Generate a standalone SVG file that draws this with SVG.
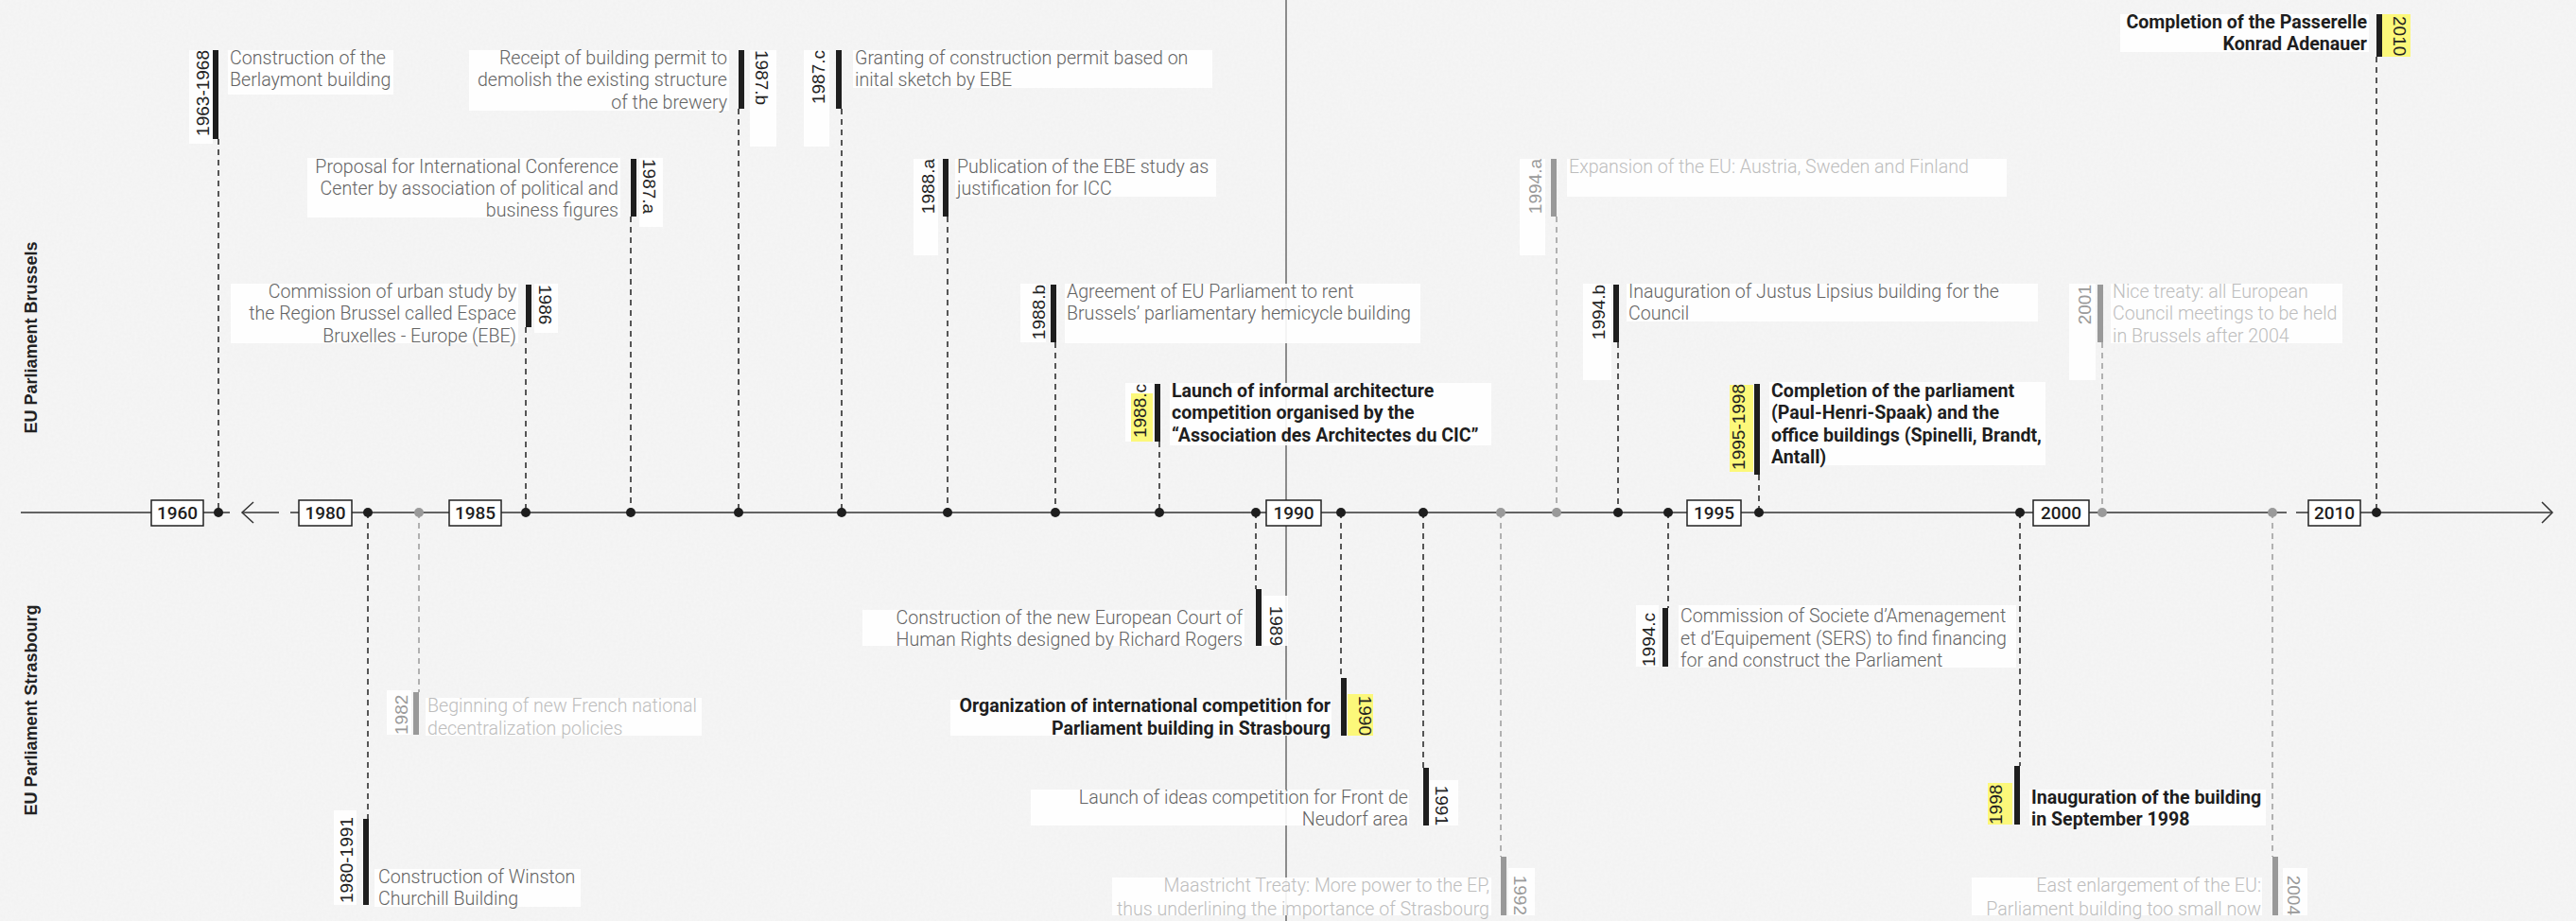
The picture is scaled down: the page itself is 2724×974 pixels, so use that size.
<svg xmlns="http://www.w3.org/2000/svg" width="2724" height="974" viewBox="0 0 2724 974">
<style>
.ev{font-family:Roboto,"Liberation Sans",sans-serif;font-weight:300;font-size:19.6px;fill:#636363}
.evb{font-family:Roboto,"Liberation Sans",sans-serif;font-weight:700;font-size:19.6px;fill:#1e1e1e}
.evf{font-family:Roboto,"Liberation Sans",sans-serif;font-weight:300;font-size:19.6px;fill:#bdbdbd}
.yl{font-family:"Liberation Sans",Arial,sans-serif;font-size:19px;fill:#222}
.ylf{font-family:"Liberation Sans",Arial,sans-serif;font-size:19px;fill:#9a9a9a}
.bx{font-family:Roboto,"Liberation Sans",sans-serif;font-weight:500;font-size:19px;fill:#1e1e1e;text-anchor:middle}
.side{font-family:"Liberation Sans",Arial,sans-serif;font-weight:bold;font-size:18px;fill:#222;text-anchor:middle}
.bg{fill:#fff;opacity:0.9}
.hl{fill:#fcf87a}
.bar{fill:#1e1e1e}
.barf{fill:#999}
.dash{stroke:#222;stroke-width:1.5;stroke-dasharray:6 5;fill:none}
.dashf{stroke:#9a9a9a;stroke-width:1.5;stroke-dasharray:6 5;fill:none}
.axis{stroke:#333;stroke-width:1.5;fill:none}
.ybox{fill:#fff;stroke:#222;stroke-width:1.5}
.dot{fill:#1e1e1e}
.dotf{fill:#9a9a9a}
</style>
<defs>
<filter id="noise" x="0" y="0" width="100%" height="100%">
<feTurbulence type="fractalNoise" baseFrequency="0.35" numOctaves="2" seed="4"/>
<feColorMatrix type="matrix" values="0 0 0 0 0.6  0 0 0 0 0.6  0 0 0 0 0.6  0 0 0 0.11 0"/>
</filter>
</defs>
<rect width="2724" height="974" fill="#f6f6f6"/>
<rect width="2724" height="974" filter="url(#noise)"/>

<g id="side-labels">
<text class="side" transform="translate(39,357) rotate(-90)">EU Parliament Brussels</text>
<text class="side" transform="translate(39,751) rotate(-90)">EU Parliament Strasbourg</text>
</g>

<g id="connectors">
<line x1="1360" y1="0" x2="1360" y2="974" stroke="#6a6a6a" stroke-width="1.5"/>
<line class="axis" x1="22" y1="542" x2="160" y2="542"/>
<line class="axis" x1="215" y1="542" x2="243" y2="542"/>
<line class="axis" x1="256" y1="542" x2="295" y2="542"/>
<polyline class="axis" points="268,531 256,542 268,553"/>
<line class="axis" x1="307" y1="542" x2="316" y2="542"/>
<line class="axis" x1="372" y1="542" x2="475" y2="542"/>
<line class="axis" x1="530" y1="542" x2="1339" y2="542"/>
<line class="axis" x1="1397" y1="542" x2="1784" y2="542"/>
<line class="axis" x1="1841" y1="542" x2="2150" y2="542"/>
<line class="axis" x1="2209" y1="542" x2="2418" y2="542"/>
<line class="axis" x1="2428" y1="542" x2="2441" y2="542"/>
<line class="axis" x1="2496" y1="542" x2="2699" y2="542"/>
<polyline class="axis" points="2688,531 2699,542 2688,553"/>
<line class="dash" x1="231" y1="147" x2="231" y2="542"/>
<line class="dash" x1="556" y1="346" x2="556" y2="542"/>
<line class="dash" x1="667" y1="229" x2="667" y2="542"/>
<line class="dash" x1="781" y1="115" x2="781" y2="542"/>
<line class="dash" x1="890" y1="115" x2="890" y2="542"/>
<line class="dash" x1="1002" y1="229" x2="1002" y2="542"/>
<line class="dash" x1="1116" y1="362" x2="1116" y2="542"/>
<line class="dash" x1="1226" y1="467" x2="1226" y2="542"/>
<line class="dashf" x1="1646" y1="229" x2="1646" y2="542"/>
<line class="dash" x1="1711" y1="362" x2="1711" y2="542"/>
<line class="dash" x1="1860" y1="502" x2="1860" y2="542"/>
<line class="dashf" x1="2223" y1="362" x2="2223" y2="542"/>
<line class="dash" x1="2513" y1="60" x2="2513" y2="542"/>
<line class="dash" x1="389" y1="542" x2="389" y2="866"/>
<line class="dashf" x1="443" y1="542" x2="443" y2="732"/>
<line class="dash" x1="1328" y1="542" x2="1328" y2="623"/>
<line class="dash" x1="1418" y1="542" x2="1418" y2="717"/>
<line class="dash" x1="1505" y1="542" x2="1505" y2="812"/>
<line class="dashf" x1="1587" y1="542" x2="1587" y2="906"/>
<line class="dash" x1="1764" y1="542" x2="1764" y2="643"/>
<line class="dash" x1="2136" y1="542" x2="2136" y2="810"/>
<line class="dashf" x1="2403" y1="542" x2="2403" y2="906"/>
<circle class="dot" cx="231" cy="542" r="5"/>
<circle class="dot" cx="389" cy="542" r="5"/>
<circle class="dotf" cx="443" cy="542" r="5"/>
<circle class="dot" cx="556" cy="542" r="5"/>
<circle class="dot" cx="667" cy="542" r="5"/>
<circle class="dot" cx="781" cy="542" r="5"/>
<circle class="dot" cx="890" cy="542" r="5"/>
<circle class="dot" cx="1002" cy="542" r="5"/>
<circle class="dot" cx="1116" cy="542" r="5"/>
<circle class="dot" cx="1226" cy="542" r="5"/>
<circle class="dot" cx="1328" cy="542" r="5"/>
<circle class="dot" cx="1418" cy="542" r="5"/>
<circle class="dot" cx="1505" cy="542" r="5"/>
<circle class="dotf" cx="1587" cy="542" r="5"/>
<circle class="dotf" cx="1646" cy="542" r="5"/>
<circle class="dot" cx="1711" cy="542" r="5"/>
<circle class="dot" cx="1764" cy="542" r="5"/>
<circle class="dot" cx="1860" cy="542" r="5"/>
<circle class="dot" cx="2136" cy="542" r="5"/>
<circle class="dotf" cx="2223" cy="542" r="5"/>
<circle class="dotf" cx="2403" cy="542" r="5"/>
<circle class="dot" cx="2513" cy="542" r="5"/>
</g>

<g id="year-boxes">
<g id="y1960"><rect class="ybox" x="160" y="529" width="55" height="27"/><text class="bx" x="187.5" y="549">1960</text></g>
<g id="y1980"><rect class="ybox" x="316" y="529" width="56" height="27"/><text class="bx" x="344" y="549">1980</text></g>
<g id="y1985"><rect class="ybox" x="475" y="529" width="55" height="27"/><text class="bx" x="502.5" y="549">1985</text></g>
<g id="y1990"><rect class="ybox" x="1339" y="529" width="58" height="27"/><text class="bx" x="1368" y="549">1990</text></g>
<g id="y1995"><rect class="ybox" x="1784" y="529" width="57" height="27"/><text class="bx" x="1812.5" y="549">1995</text></g>
<g id="y2000"><rect class="ybox" x="2150" y="529" width="59" height="27"/><text class="bx" x="2179.5" y="549">2000</text></g>
<g id="y2010"><rect class="ybox" x="2441" y="529" width="55" height="27"/><text class="bx" x="2468.5" y="549">2010</text></g>
</g>

<g id="ev-1963-1968">
<rect class="bg" x="200" y="53" width="25" height="99"/>
<rect class="bg" x="241" y="53" width="175" height="47"/>
<rect class="bar" x="225" y="53" width="6" height="94"/>
<text class="yl" transform="translate(221,53) rotate(-90)" text-anchor="end">1963-1968</text>
<text class="ev"><tspan x="243" y="68">Construction of the</tspan><tspan x="243" y="91">Berlaymont building</tspan></text>
</g>
<g id="ev-1987b">
<rect class="bg" x="496" y="53" width="275" height="64"/>
<rect class="bg" x="793" y="53" width="28" height="102"/>
<rect class="bar" x="781" y="53" width="6" height="62"/>
<text class="yl" transform="translate(799,53) rotate(90)">1987.b</text>
<text class="ev" text-anchor="end"><tspan x="769" y="68">Receipt of building permit to</tspan><tspan x="769" y="91">demolish the existing structure</tspan><tspan x="769" y="115">of the brewery</tspan></text>
</g>
<g id="ev-1987c">
<rect class="bg" x="850" y="53" width="27" height="102"/>
<rect class="bg" x="902" y="53" width="380" height="40"/>
<rect class="bar" x="884" y="53" width="6" height="62"/>
<text class="yl" transform="translate(872,53) rotate(-90)" text-anchor="end">1987.c</text>
<text class="ev"><tspan x="904" y="68">Granting of construction permit based on</tspan><tspan x="904" y="91">inital sketch by EBE</tspan></text>
</g>
<g id="ev-1987a">
<rect class="bg" x="325" y="167" width="331" height="63"/>
<rect class="bg" x="676" y="167" width="25" height="73"/>
<rect class="bar" x="667" y="168" width="6" height="61"/>
<text class="yl" transform="translate(680,168) rotate(90)">1987.a</text>
<text class="ev" text-anchor="end"><tspan x="654" y="183">Proposal for International Conference</tspan><tspan x="654" y="206">Center by association of political and</tspan><tspan x="654" y="229">business figures</tspan></text>
</g>
<g id="ev-1986">
<rect class="bg" x="244" y="300" width="304" height="63"/>
<rect class="bg" x="565" y="300" width="25" height="52"/>
<rect class="bar" x="556" y="301" width="6" height="45"/>
<text class="yl" transform="translate(570,301) rotate(90)">1986</text>
<text class="ev" text-anchor="end"><tspan x="546" y="315">Commission of urban study by</tspan><tspan x="546" y="338">the Region Brussel called Espace</tspan><tspan x="546" y="362">Bruxelles - Europe (EBE)</tspan></text>
</g>
<g id="ev-1988a">
<rect class="bg" x="966" y="168" width="26" height="102"/>
<rect class="bg" x="1010" y="168" width="276" height="40"/>
<rect class="bar" x="997" y="168" width="6" height="61"/>
<text class="yl" transform="translate(988,168) rotate(-90)" text-anchor="end">1988.a</text>
<text class="ev"><tspan x="1012" y="183">Publication of the EBE study as</tspan><tspan x="1012" y="206">justification for ICC</tspan></text>
</g>
<g id="ev-1988b">
<rect class="bg" x="1079" y="300" width="27" height="62"/>
<rect class="bg" x="1126" y="300" width="376" height="63"/>
<rect class="bar" x="1111" y="301" width="6" height="61"/>
<text class="yl" transform="translate(1105,301) rotate(-90)" text-anchor="end">1988.b</text>
<text class="ev"><tspan x="1128" y="315">Agreement of EU Parliament to rent</tspan><tspan x="1128" y="338">Brussels’ parliamentary hemicycle building</tspan></text>
</g>
<g id="ev-1988c">
<rect class="bg" x="1190" y="405" width="30" height="62"/>
<rect class="hl" x="1196" y="416" width="23" height="51"/>
<rect class="bg" x="1237" y="405" width="340" height="66"/>
<rect class="bar" x="1221" y="406" width="6" height="61"/>
<text class="yl" transform="translate(1212,406) rotate(-90)" text-anchor="end">1988.c</text>
<text class="evb"><tspan x="1239" y="420">Launch of informal architecture</tspan><tspan x="1239" y="443">competition organised by the</tspan><tspan x="1239" y="467">“Association des Architectes du CIC”</tspan></text>
</g>
<g id="ev-1994a">
<rect class="bg" x="1607" y="168" width="27" height="102"/>
<rect class="bg" x="1657" y="168" width="465" height="40"/>
<rect class="barf" x="1640" y="168" width="6" height="61"/>
<text class="ylf" transform="translate(1630,168) rotate(-90)" text-anchor="end">1994.a</text>
<text class="evf"><tspan x="1659" y="183">Expansion of the EU: Austria, Sweden and Finland</tspan></text>
</g>
<g id="ev-1994b">
<rect class="bg" x="1674" y="300" width="30" height="102"/>
<rect class="bg" x="1720" y="300" width="435" height="40"/>
<rect class="bar" x="1706" y="301" width="6" height="61"/>
<text class="yl" transform="translate(1697,301) rotate(-90)" text-anchor="end">1994.b</text>
<text class="ev"><tspan x="1722" y="315">Inauguration of Justus Lipsius building for the</tspan><tspan x="1722" y="338">Council</tspan></text>
</g>
<g id="ev-1995-1998">
<rect class="hl" x="1829" y="407" width="25" height="92"/>
<rect class="bg" x="1871" y="404" width="292" height="88"/>
<rect class="bar" x="1855" y="406" width="6" height="96"/>
<text class="yl" transform="translate(1845,406) rotate(-90)" text-anchor="end">1995-1998</text>
<text class="evb"><tspan x="1873" y="420">Completion of the parliament</tspan><tspan x="1873" y="443">(Paul-Henri-Spaak) and the</tspan><tspan x="1873" y="467">office buildings (Spinelli, Brandt,</tspan><tspan x="1873" y="490">Antall)</tspan></text>
</g>
<g id="ev-2001">
<rect class="bg" x="2188" y="300" width="28" height="102"/>
<rect class="bg" x="2232" y="300" width="245" height="63"/>
<rect class="barf" x="2218" y="301" width="6" height="61"/>
<text class="ylf" transform="translate(2211,301) rotate(-90)" text-anchor="end">2001</text>
<text class="evf"><tspan x="2234" y="315">Nice treaty: all European</tspan><tspan x="2234" y="338">Council meetings to be held</tspan><tspan x="2234" y="362">in Brussels after 2004</tspan></text>
</g>
<g id="ev-2010">
<rect class="bg" x="2242" y="15" width="263" height="40"/>
<rect class="hl" x="2519" y="15" width="30" height="45"/>
<rect class="bar" x="2513" y="15" width="6" height="45"/>
<text class="yl" transform="translate(2531,17) rotate(90)">2010</text>
<text class="evb" text-anchor="end"><tspan x="2503" y="30">Completion of the Passerelle</tspan><tspan x="2503" y="53">Konrad Adenauer</tspan></text>
</g>

<g id="ev-1980-1991">
<rect class="bg" x="353" y="857" width="24" height="100"/>
<rect class="bg" x="396" y="919" width="218" height="40"/>
<rect class="bar" x="384" y="866" width="6" height="91"/>
<text class="yl" transform="translate(373,955) rotate(-90)">1980-1991</text>
<text class="ev"><tspan x="400" y="934">Construction of Winston</tspan><tspan x="400" y="957">Churchill Building</tspan></text>
</g>
<g id="ev-1982">
<rect class="bg" x="409" y="730" width="26" height="47"/>
<rect class="bg" x="450" y="738" width="292" height="40"/>
<rect class="barf" x="437" y="732" width="6" height="45"/>
<text class="ylf" transform="translate(431,777) rotate(-90)">1982</text>
<text class="evf"><tspan x="452" y="753">Beginning of new French national</tspan><tspan x="452" y="777">decentralization policies</tspan></text>
</g>
<g id="ev-1989">
<rect class="bg" x="912" y="645" width="404" height="38"/>
<rect class="bg" x="1336" y="630" width="26" height="53"/>
<rect class="bar" x="1328" y="623" width="6" height="60"/>
<text class="yl" transform="translate(1343,683) rotate(90)" text-anchor="end">1989</text>
<text class="ev" text-anchor="end"><tspan x="1314" y="660">Construction of the new European Court of</tspan><tspan x="1314" y="683">Human Rights designed by Richard Rogers</tspan></text>
</g>
<g id="ev-1990">
<rect class="bg" x="1005" y="740" width="403" height="38"/>
<rect class="hl" x="1425" y="734" width="27" height="44"/>
<rect class="bar" x="1418" y="717" width="6" height="61"/>
<text class="yl" transform="translate(1437,778) rotate(90)" text-anchor="end">1990</text>
<text class="evb" text-anchor="end"><tspan x="1407" y="753">Organization of international competition for</tspan><tspan x="1407" y="777">Parliament building in Strasbourg</tspan></text>
</g>
<g id="ev-1991">
<rect class="bg" x="1090" y="835" width="400" height="38"/>
<rect class="bg" x="1512" y="825" width="30" height="48"/>
<rect class="bar" x="1505" y="812" width="6" height="61"/>
<text class="yl" transform="translate(1518,873) rotate(90)" text-anchor="end">1991</text>
<text class="ev" text-anchor="end"><tspan x="1489" y="850">Launch of ideas competition for Front de</tspan><tspan x="1489" y="873">Neudorf area</tspan></text>
</g>
<g id="ev-1992">
<rect class="bg" x="1176" y="928" width="401" height="40"/>
<rect class="bg" x="1595" y="918" width="28" height="50"/>
<rect class="barf" x="1587" y="906" width="6" height="62"/>
<text class="ylf" transform="translate(1601,968) rotate(90)" text-anchor="end">1992</text>
<text class="evf" text-anchor="end"><tspan x="1575" y="943">Maastricht Treaty: More power to the EP,</tspan><tspan x="1575" y="968">thus underlining the importance of Strasbourg</tspan></text>
</g>
<g id="ev-1994c">
<rect class="bg" x="1730" y="640" width="24" height="65"/>
<rect class="bg" x="1775" y="640" width="357" height="66"/>
<rect class="bar" x="1758" y="643" width="6" height="62"/>
<text class="yl" transform="translate(1750,705) rotate(-90)">1994.c</text>
<text class="ev"><tspan x="1777" y="658">Commission of Societe d’Amenagement</tspan><tspan x="1777" y="682">et d’Equipement (SERS) to find financing</tspan><tspan x="1777" y="705">for and construct the Parliament</tspan></text>
</g>
<g id="ev-1998">
<rect class="hl" x="2102" y="828" width="26" height="44"/>
<rect class="bg" x="2146" y="835" width="250" height="38"/>
<rect class="bar" x="2130" y="810" width="6" height="62"/>
<text class="yl" transform="translate(2117,872) rotate(-90)">1998</text>
<text class="evb"><tspan x="2148" y="850">Inauguration of the building</tspan><tspan x="2148" y="873">in September 1998</tspan></text>
</g>
<g id="ev-2004">
<rect class="bg" x="2085" y="928" width="307" height="40"/>
<rect class="bg" x="2414" y="918" width="26" height="50"/>
<rect class="barf" x="2403" y="906" width="6" height="62"/>
<text class="ylf" transform="translate(2419,968) rotate(90)" text-anchor="end">2004</text>
<text class="evf" text-anchor="end"><tspan x="2391" y="943">East enlargement of the EU:</tspan><tspan x="2391" y="968">Parliament building too small now</tspan></text>
</g>
</svg>
